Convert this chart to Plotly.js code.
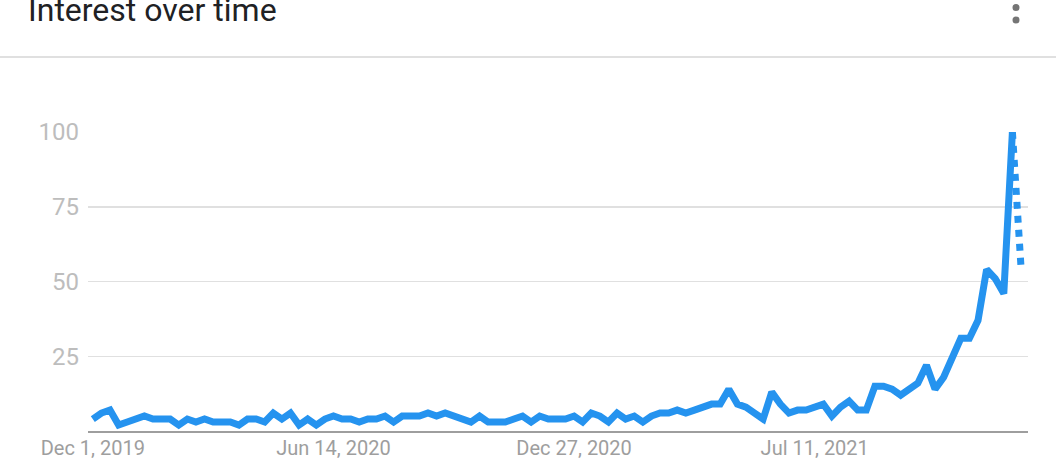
<!DOCTYPE html>
<html>
<head>
<meta charset="utf-8">
<script src="https://cdn.plot.ly/plotly-3.0.1.min.js"></script>
<style>
  html, body { margin: 0; padding: 0; background: #ffffff; }
  #chart { width: 1056px; height: 470px; }
</style>
</head>
<body>
<div id="chart"></div>
<script>
// Weekly search interest, starting the week of Dec 1, 2019
const startWeek = '2019-12-01';
const interest = [
  4, 6, 7, 2, 3, 4, 5, 4, 4, 4,
  2, 4, 3, 4, 3, 3, 3, 2, 4, 4,
  3, 6, 4, 6, 2, 4, 2, 4, 5, 4,
  4, 3, 4, 4, 5, 3, 5, 5, 5, 6,
  5, 6, 5, 4, 3, 5, 3, 3, 3, 4,
  5, 3, 5, 4, 4, 4, 5, 3, 6, 5,
  3, 6, 4, 5, 3, 5, 6, 6, 7, 6,
  7, 8, 9, 9, 14, 9, 8, 6, 4, 13,
  9, 6, 7, 7, 8, 9, 5, 8, 10, 7,
  7, 15, 15, 14, 12, 14, 16, 22, 14, 18,
  25, 31, 31, 37, 54, 51, 46, 100, 55
];
const tickDates = ['2019-12-01', '2020-06-14', '2020-12-27', '2021-07-11'];
const tickLabels = ['Dec 1, 2019', 'Jun 14, 2020', 'Dec 27, 2020', 'Jul 11, 2021'];
const yTicks = [25, 50, 75, 100];
const titleText = 'Interest over time';

// build week dates
const weeks = [];
{
  const d0 = new Date(startWeek + 'T00:00:00Z');
  for (let i = 0; i < interest.length; i++) {
    const d = new Date(d0.getTime() + i * 7 * 86400000);
    weeks.push(d.toISOString().slice(0, 10));
  }
}
const n = interest.length;
const blue = '#2593ef';

const traces = [
  {
    x: weeks.slice(0, n - 1),
    y: interest.slice(0, n - 1),
    type: 'scatter', mode: 'lines',
    line: { color: blue, width: 7 },
    hoverinfo: 'skip'
  },
  {
    x: weeks.slice(n - 2),
    y: interest.slice(n - 2),
    type: 'scatter', mode: 'lines',
    line: { color: blue, width: 7, dash: 'dot' },
    hoverinfo: 'skip'
  }
];

const L = 88, R = 28, T = 132, B = 39, W = 1056, H = 470;
const pw = W - L - R, ph = H - T - B;
const px = v => (v - L) / pw;
const py = v => (H - B - v) / ph;

const layout = {
  width: W, height: H,
  margin: { l: L, r: R, t: T, b: B, pad: 0 },
  paper_bgcolor: '#ffffff', plot_bgcolor: '#ffffff',
  showlegend: false,
  font: { family: 'Roboto, sans-serif' },
  title: {
    text: titleText,
    font: { family: 'Roboto, sans-serif', size: 32, color: '#202124' },
    xref: 'container', yref: 'container',
    x: 28 / W, xanchor: 'left',
    y: 1 - 10 / H, yanchor: 'middle'
  },
  xaxis: {
    type: 'date',
    range: ['2019-11-27 02:00', '2021-12-31 17:00'],
    tickmode: 'array', tickvals: tickDates, ticktext: tickLabels,
    showgrid: false, zeroline: false,
    showline: true, linecolor: '#9e9e9e', linewidth: 2,
    ticks: '', ticklabelstandoff: -2,
    tickfont: { family: 'Roboto, sans-serif', size: 20, color: '#9e9e9e' },
    fixedrange: true
  },
  yaxis: {
    range: [0, 100],
    tickmode: 'array', tickvals: yTicks,
    showgrid: true, gridcolor: '#e0e0e0', gridwidth: 1.5,
    zeroline: false, showline: false,
    ticks: '', ticklabelstandoff: 8,
    tickfont: { family: 'Roboto, sans-serif', size: 24, color: '#bdbdbd' },
    fixedrange: true
  },
  shapes: [
    { type: 'line', xref: 'paper', yref: 'paper',
      x0: px(0), x1: px(W), y0: py(57), y1: py(57),
      line: { color: '#e0e0e0', width: 2 } },
    { type: 'circle', xref: 'paper', yref: 'paper',
      xsizemode: 'pixel', ysizemode: 'pixel',
      xanchor: px(1016), yanchor: py(7.4),
      x0: -3.5, x1: 3.5, y0: -3.5, y1: 3.5,
      fillcolor: '#757575', line: { width: 0 } },
    { type: 'circle', xref: 'paper', yref: 'paper',
      xsizemode: 'pixel', ysizemode: 'pixel',
      xanchor: px(1016), yanchor: py(20),
      x0: -3.5, x1: 3.5, y0: -3.5, y1: 3.5,
      fillcolor: '#757575', line: { width: 0 } }
  ]
};

Plotly.newPlot('chart', traces, layout, { displayModeBar: false, staticPlot: true });
</script>
</body>
</html>
